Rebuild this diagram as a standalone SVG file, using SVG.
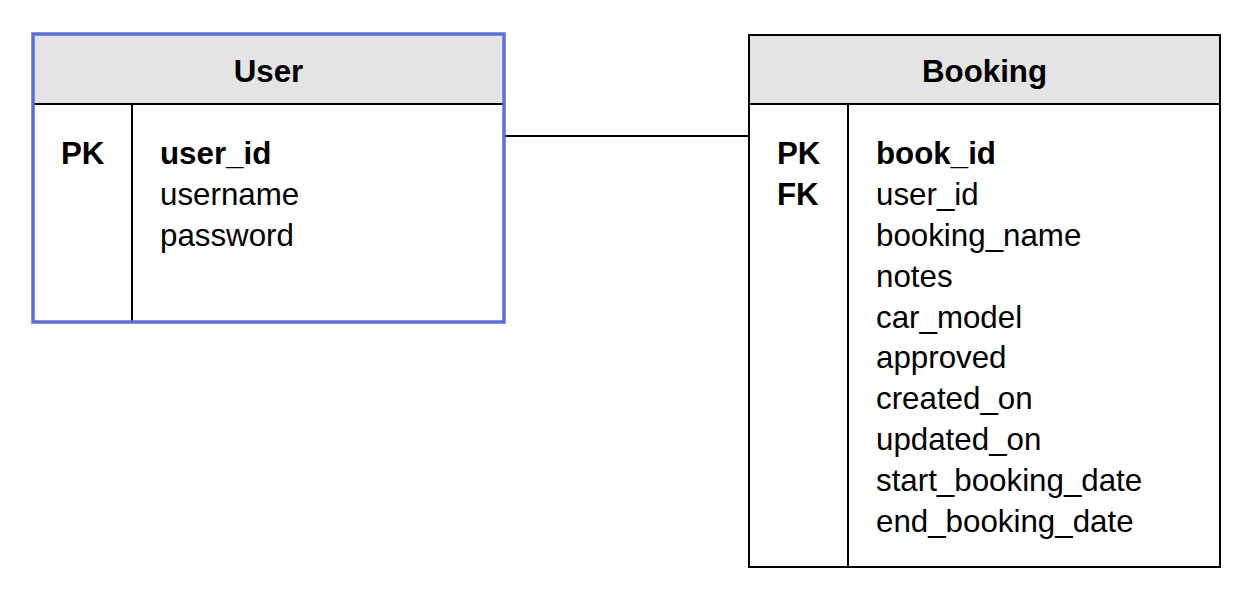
<svg xmlns="http://www.w3.org/2000/svg" width="1257" height="606" viewBox="0 0 1257 606">
<style>
text{font-family:"Liberation Sans",Arial,sans-serif;font-size:31.3px;fill:#000}
.b{font-weight:bold}
.t{font-weight:bold;text-anchor:middle}
.hdr{fill:#e4e4e4}
.ln{stroke:#000;stroke-width:2;fill:none}
</style>
<rect width="1257" height="606" fill="#fff"/>
<g id="connectors">
<line class="ln" x1="505" y1="136" x2="749" y2="136"/>
</g>
<g id="user">
<rect x="33" y="34" width="471" height="70" class="hdr"/>
<line class="ln" x1="33" y1="104" x2="504" y2="104"/>
<line class="ln" x1="132" y1="104" x2="132" y2="322"/>
<rect x="33" y="34" width="471" height="288" fill="none" stroke="#5b6ee1" stroke-width="3.5"/>
<text class="t" x="268.5" y="81.5">User</text>
<text class="b" x="61" y="164">PK</text>
<text class="b" x="160" y="164">user_id</text>
<text x="160" y="205">username</text>
<text x="160" y="246">password</text>
</g>
<g id="booking">
<rect x="749" y="35" width="471" height="69" class="hdr"/>
<line class="ln" x1="749" y1="104" x2="1220" y2="104"/>
<line class="ln" x1="848" y1="104" x2="848" y2="567"/>
<rect x="749" y="35" width="471" height="532" class="ln"/>
<text class="t" x="984.5" y="81.5">Booking</text>
<text class="b" x="777" y="164">PK</text>
<text class="b" x="777" y="205">FK</text>
<text class="b" x="876" y="164">book_id</text>
<text x="876" y="205">user_id</text>
<text x="876" y="246">booking_name</text>
<text x="876" y="287">notes</text>
<text x="876" y="328">car_model</text>
<text x="876" y="368">approved</text>
<text x="876" y="409">created_on</text>
<text x="876" y="450">updated_on</text>
<text x="876" y="491">start_booking_date</text>
<text x="876" y="532">end_booking_date</text>
</g>
</svg>
